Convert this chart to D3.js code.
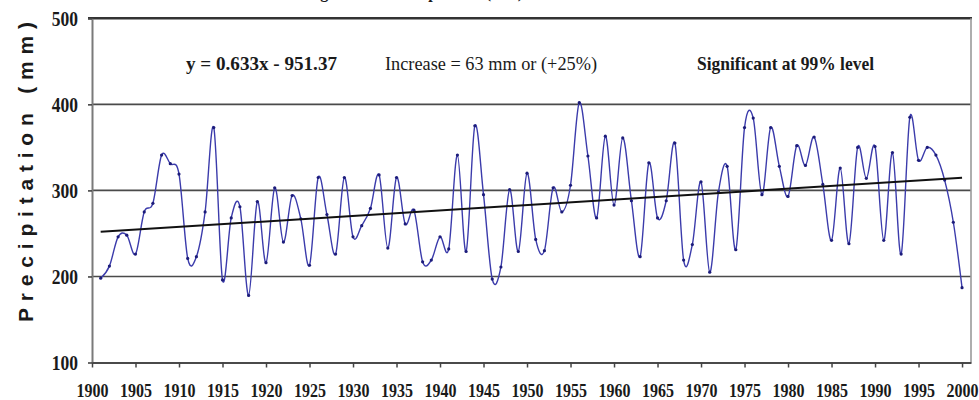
<!DOCTYPE html>
<html>
<head>
<meta charset="utf-8">
<script src="https://cdn.jsdelivr.net/npm/d3@7/dist/d3.min.js"></script>
<style>
  body { margin: 0; background: #fff; }
  svg { display: block; }
</style>
</head>
<body>
<svg id="chart" width="979" height="400"></svg>
<script>
// Annual precipitation, 1901-2000 (mm)
const years = d3.range(1901, 2001);
const precipitation = [
  198, 212, 246, 248, 226, 275, 285, 341, 331, 319,
  221, 223, 275, 373, 196, 268, 281, 178, 287, 216,
  303, 240, 294, 267, 213, 315, 272, 226, 315, 246,
  259, 279, 318, 233, 315, 261, 277, 217, 219, 246,
  232, 341, 229, 375, 295, 197, 211, 301, 229, 320,
  243, 230, 303, 275, 306, 402, 340, 268, 363, 283,
  361, 288, 223, 332, 268, 288, 355, 219, 237, 310,
  205, 298, 328, 231, 373, 384, 295, 373, 328, 293,
  352, 329, 362, 307, 242, 326, 238, 350, 314, 351,
  242, 344, 226, 385, 335, 350, 341, 312, 263, 187
];
const yTicks = [100, 200, 300, 400, 500];
const gridValues = [200, 300, 400];
const xTicks = d3.range(1900, 2001, 5);

// Linear trend: y = 0.633x - 951.37
const trendSlope = 0.633;
const trendIntercept = -951.37;

const titleText = "Average Annual Precipitation (mm)";
const yTitle = "Precipitation (mm)";
const notes = [
  { text: "y = 0.633x - 951.37", x: 186, width: 151, weight: "bold" },
  { text: "Increase = 63 mm or (+25%)", x: 385, width: 212, weight: "normal" },
  { text: "Significant at 99% level", x: 697, width: 177, weight: "bold" }
];

const serif = "'Liberation Serif', 'Times New Roman', serif";
const svg = d3.select("#chart");

const x = d3.scaleLinear().domain([1900, 2001.03]).range([92, 971]);
const y = d3.scaleLinear().domain([100, 500]).range([362.5, 18.3]);

// horizontal gridlines
svg.append("g")
  .selectAll("line")
  .data(gridValues)
  .join("line")
  .attr("x1", x(1900)).attr("x2", x.range()[1])
  .attr("y1", d => y(d)).attr("y2", d => y(d))
  .attr("stroke", "#4a4a4a").attr("stroke-width", 1.6);

// top edge at 500
svg.append("line")
  .attr("x1", x(1900) - 4).attr("x2", x.range()[1] + 1)
  .attr("y1", y(500)).attr("y2", y(500))
  .attr("stroke", "#333").attr("stroke-width", 2.4);

// right border of the plot area
svg.append("line")
  .attr("x1", x.range()[1]).attr("x2", x.range()[1])
  .attr("y1", y(500)).attr("y2", y(100))
  .attr("stroke", "#9a9a9a").attr("stroke-width", 1.6);

// y axis
const yAxis = svg.append("g")
  .attr("transform", `translate(${x(1900)},0)`)
  .call(d3.axisLeft(y).tickValues(yTicks).tickSize(4).tickSizeOuter(0).tickFormat(d3.format("d")));
yAxis.select(".domain").attr("stroke", "#7a7a7a").attr("stroke-width", 2);
yAxis.selectAll(".tick line").attr("stroke", "#444").attr("stroke-width", 1.6);
yAxis.selectAll(".tick text")
  .attr("x", null).attr("dy", null)
  .attr("transform", "translate(-14,7.3) scale(1,1.25)")
  .attr("text-anchor", "end")
  .attr("fill", "#1a1a1a")
  .style("font-family", serif).style("font-weight", "bold").style("font-size", "17.5px");

// x axis
const xAxis = svg.append("g")
  .attr("transform", `translate(0,${y(100)})`)
  .call(d3.axisBottom(x).tickValues(xTicks).tickSize(5).tickSizeOuter(0).tickFormat(d3.format("d")));
xAxis.select(".domain").attr("stroke", "#4a4a4a").attr("stroke-width", 2);
xAxis.selectAll(".tick line").attr("stroke", "#444").attr("stroke-width", 1.5);
xAxis.selectAll(".tick text")
  .attr("y", null).attr("dy", null)
  .attr("transform", "translate(0,34.5) scale(1,1.2)")
  .attr("text-anchor", "middle")
  .attr("fill", "#1a1a1a")
  .style("font-family", serif).style("font-weight", "bold").style("font-size", "16px");

// y axis title
svg.append("text")
  .attr("transform", `translate(33,172) rotate(-90)`)
  .attr("text-anchor", "middle")
  .attr("textLength", 300)
  .attr("lengthAdjust", "spacing")
  .attr("fill", "#1a1a1a")
  .style("font-family", "'Liberation Sans', Arial, sans-serif")
  .style("font-weight", "bold")
  .style("font-size", "21px")
  .text(yTitle);

// chart title, sitting above the top edge of the page
svg.append("text")
  .attr("x", 523).attr("y", -2)
  .attr("text-anchor", "end")
  .attr("fill", "#1a1a1a")
  .style("font-family", serif).style("font-weight", "bold").style("font-size", "16px")
  .text(titleText);

// statistics notes
svg.append("g")
  .selectAll("text")
  .data(notes)
  .join("text")
  .attr("x", d => d.x).attr("y", 70)
  .attr("textLength", d => d.width)
  .attr("lengthAdjust", "spacingAndGlyphs")
  .attr("fill", "#1a1a1a")
  .style("font-family", serif)
  .style("font-weight", d => d.weight)
  .style("font-size", "19px")
  .text(d => d.text);

// precipitation series (smoothed)
const series = years.map((yr, i) => ({ year: yr, value: precipitation[i] }));
const line = d3.line()
  .x(d => x(d.year))
  .y(d => y(d.value))
  .curve(d3.curveCatmullRom.alpha(0));

svg.append("path")
  .datum(series)
  .attr("fill", "none")
  .attr("stroke", "#3b3bab")
  .attr("stroke-width", 1.4)
  .attr("d", line);

svg.append("g")
  .selectAll("circle")
  .data(series)
  .join("circle")
  .attr("cx", d => x(d.year))
  .attr("cy", d => y(d.value))
  .attr("r", 1.6)
  .attr("fill", "#1c1c7a");

// trend line
const trendEnds = [years[0], years[years.length - 1]].map(yr => ({ year: yr, value: trendSlope * yr + trendIntercept }));
svg.append("path")
  .datum(trendEnds)
  .attr("fill", "none")
  .attr("stroke", "#111")
  .attr("stroke-width", 2)
  .attr("d", d3.line().x(d => x(d.year)).y(d => y(d.value)));
</script>
</body>
</html>
